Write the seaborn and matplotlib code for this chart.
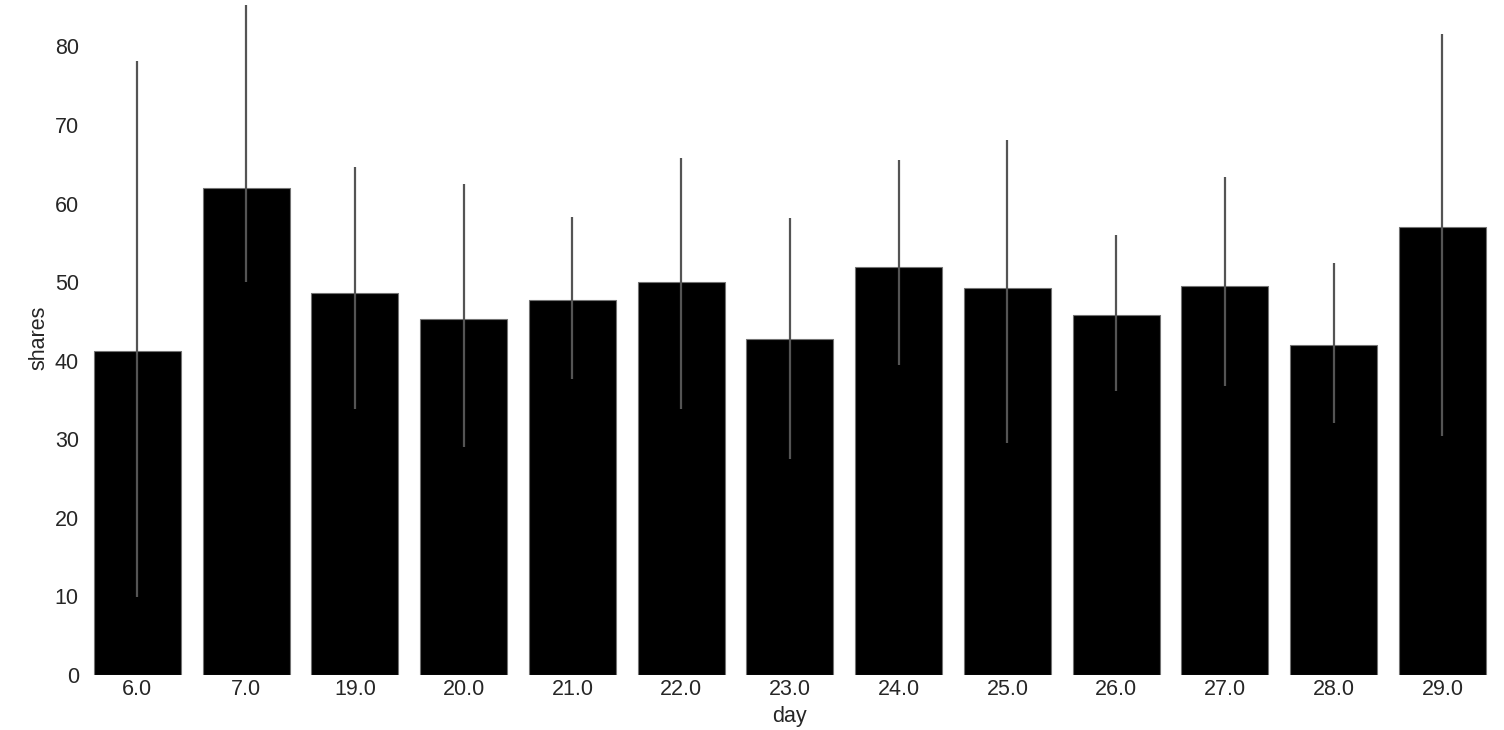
import numpy as np
import pandas as pd
import matplotlib
matplotlib.use("Agg")
import matplotlib.pyplot as plt
import seaborn as sns

# values
days = ["6.0", "7.0", "19.0", "20.0", "21.0", "22.0", "23.0",
        "24.0", "25.0", "26.0", "27.0", "28.0", "29.0"]
shares = [41.2, 62.0, 48.6, 45.3, 47.7, 50.0, 42.7,
          51.9, 49.2, 45.8, 49.5, 42.0, 57.0]
err_low = [9.9, 50.0, 33.8, 29.0, 37.7, 33.8, 27.5,
           39.4, 29.5, 36.1, 36.8, 32.1, 30.4]
err_high = [78.1, 85.3, 64.6, 62.5, 58.3, 65.8, 58.1,
            65.5, 68.1, 56.0, 63.4, 52.4, 81.6]

df = pd.DataFrame({"day": days, "shares": shares})

sns.set_theme(style="white")
plt.rcParams["font.family"] = ["Liberation Sans", "DejaVu Sans"]

fig = plt.figure(figsize=(15.04, 7.3), dpi=100)
ax = fig.add_axes([0.0552, 0.0753, 0.940, 0.9247])

sns.barplot(data=df, x="day", y="shares", color="black", saturation=1,
            errorbar=None, width=0.8, edgecolor="0.45", linewidth=0.8, ax=ax)

# confidence intervals as thin grey lines
ax.vlines(np.arange(len(days)), err_low, err_high, color="0.33", linewidth=1.6, zorder=3)

ax.set_ylim(0, 85.9)
ax.set_xlim(-0.5, len(days) - 0.5)
ax.set_yticks(range(0, 90, 10))
sns.despine(ax=ax, left=True, bottom=True)
ax.tick_params(axis="both", labelsize=15.5, colors="0.15", length=0, pad=3)
ax.set_xlabel("day", fontsize=15.5, color="0.15", labelpad=4)
ax.set_ylabel("shares", fontsize=15.5, color="0.15", labelpad=4)

fig.savefig("out.png", dpi=100)
